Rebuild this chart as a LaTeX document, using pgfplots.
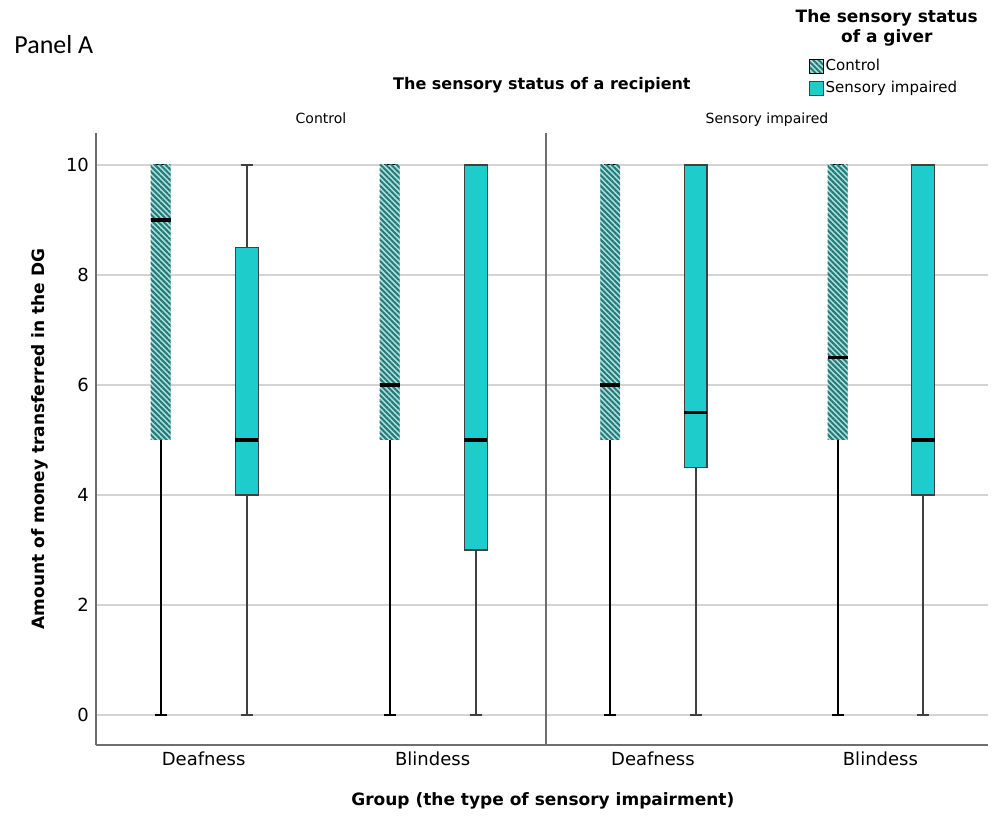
\documentclass[border=0pt]{standalone}
\usepackage{pgfplots}
\pgfplotsset{compat=1.18}
\usepgfplotslibrary{statistics}
\usetikzlibrary{patterns.meta}
\usepackage{fontspec}
\setmainfont{DejaVu Sans}
\newfontfamily\calibri{Carlito}
\definecolor{cCyan}{HTML}{1FCCCC}
\definecolor{cLight}{HTML}{B5DDDB}
\definecolor{cDark}{HTML}{1E7C78}
\definecolor{gridc}{HTML}{D4D4D4}
\definecolor{axc}{HTML}{6E6E6E}
\pgfplotsset{
 panel/.style={scale only axis, height=306pt, ymin=-0.545, ymax=10.58, xmin=0.53,
   axis x line*=bottom, axis y line*=left,
   axis line style={draw=axc, line width=0.7pt},
   ytick={0,2,...,10}, ymajorgrids, grid style={draw=gridc, line width=0.6pt},
   major tick length=0pt, xtick={1,2}, xticklabels={Deafness,Blindess},
   tick label style={font=\fontsize{9}{10}\selectfont},
   boxplot/draw direction=y,
   /pgf/number format/assume math mode=true, clip=false},
 ctrl/.style={draw=none, boxplot/draw direction=y, boxplot/box extend=0.087, boxplot/whisker extend=0.052,
   boxplot/every box/.style={draw=none, fill=cLight, postaction={pattern={Lines[angle=-45,distance=1.9pt,line width=1pt]}, pattern color=cDark}},
   boxplot/every whisker/.style={draw=black, line width=1pt},
   boxplot/every median/.style={draw=black, line width=1.6pt}},
 si/.style={boxplot/draw direction=y, boxplot/box extend=0.1, boxplot/whisker extend=0.052,
   boxplot/every box/.style={draw=black!75, line width=0.6pt, fill=cCyan},
   boxplot/every whisker/.style={draw=black!75, line width=0.9pt},
   boxplot/every median/.style={draw=black, line width=1.6pt}},
}
\begin{document}
\begin{tikzpicture}
\begin{axis}[panel, name=L, width=225pt, xmax=2.495,
  ylabel={Amount of money transferred in the DG},
  ylabel style={font=\bfseries\fontsize{8.5}{10}\selectfont, at={(axis description cs:-0.124,0.5)}, anchor=center}]
\addplot[ctrl, boxplot prepared={draw position=0.812, lower whisker=0, lower quartile=5, median=9, upper quartile=10, upper whisker=10}] coordinates {};
\addplot[si, boxplot prepared={draw position=1.188, lower whisker=0, lower quartile=4, median=5, upper quartile=8.5, upper whisker=10}] coordinates {};
\addplot[ctrl, boxplot prepared={draw position=1.812, lower whisker=0, lower quartile=5, median=6, upper quartile=10, upper whisker=10}] coordinates {};
\addplot[si, boxplot prepared={draw position=2.188, lower whisker=0, lower quartile=3, median=5, upper quartile=10, upper whisker=10}] coordinates {};
\node[font=\fontsize{7}{8}\selectfont, anchor=base] at (rel axis cs:0.5,1.0163) {Control};
\node[font=\bfseries\fontsize{8}{9}\selectfont] at (rel axis cs:0.991,1.078) {The sensory status of a recipient};
\node[font=\bfseries\fontsize{8.5}{10}\selectfont] at (rel axis cs:0.993,-0.0915) {Group (the type of sensory impairment)};
\node[font=\calibri\fontsize{13}{15}\selectfont, anchor=west, inner sep=0pt] at (rel axis cs:-0.182,1.144) {Panel A};
\end{axis}
\begin{axis}[panel, at={(L.south east)}, anchor=south west, width=221pt, xmax=2.473,
  yticklabels={},
  legend cell align=left,
  legend style={at={(0.593,1.124)}, anchor=north west, draw=none, fill=none, inner sep=0pt,
    font=\fontsize{7.5}{9}\selectfont, row sep=1.5pt, nodes={inner sep=1pt}}]
\addlegendimage{legend image code/.code={\path[fill=cLight, postaction={pattern={Lines[angle=-45,distance=1.9pt,line width=1pt]}, pattern color=cDark}] (0pt,-3.5pt) rectangle (7pt,3.5pt);}}
\addlegendentry{Control}
\addlegendimage{legend image code/.code={\path[draw=black!75, line width=0.6pt, fill=cCyan] (0pt,-3.5pt) rectangle (7pt,3.5pt);}}
\addlegendentry{Sensory impaired}
\addplot[ctrl, boxplot prepared={draw position=0.812, lower whisker=0, lower quartile=5, median=6, upper quartile=10, upper whisker=10}] coordinates {};
\addplot[si, boxplot prepared={draw position=1.188, lower whisker=0, lower quartile=4.5, median=5.5, upper quartile=10, upper whisker=10}] coordinates {};
\addplot[ctrl, boxplot prepared={draw position=1.812, lower whisker=0, lower quartile=5, median=6.5, upper quartile=10, upper whisker=10}] coordinates {};
\addplot[si, boxplot prepared={draw position=2.188, lower whisker=0, lower quartile=4, median=5, upper quartile=10, upper whisker=10}] coordinates {};
\node[font=\fontsize{7}{8}\selectfont, anchor=base] at (rel axis cs:0.5,1.0163) {Sensory impaired};
\node[font=\bfseries\fontsize{8.5}{10}\selectfont, align=center] at (rel axis cs:0.771,1.1716) {The sensory status\\of a giver};
\end{axis}
\path ([shift={(-48pt,-35.5pt)}]L.south west) rectangle ([shift={(449.5pt,372.5pt)}]L.south west);
\end{tikzpicture}
\end{document}
